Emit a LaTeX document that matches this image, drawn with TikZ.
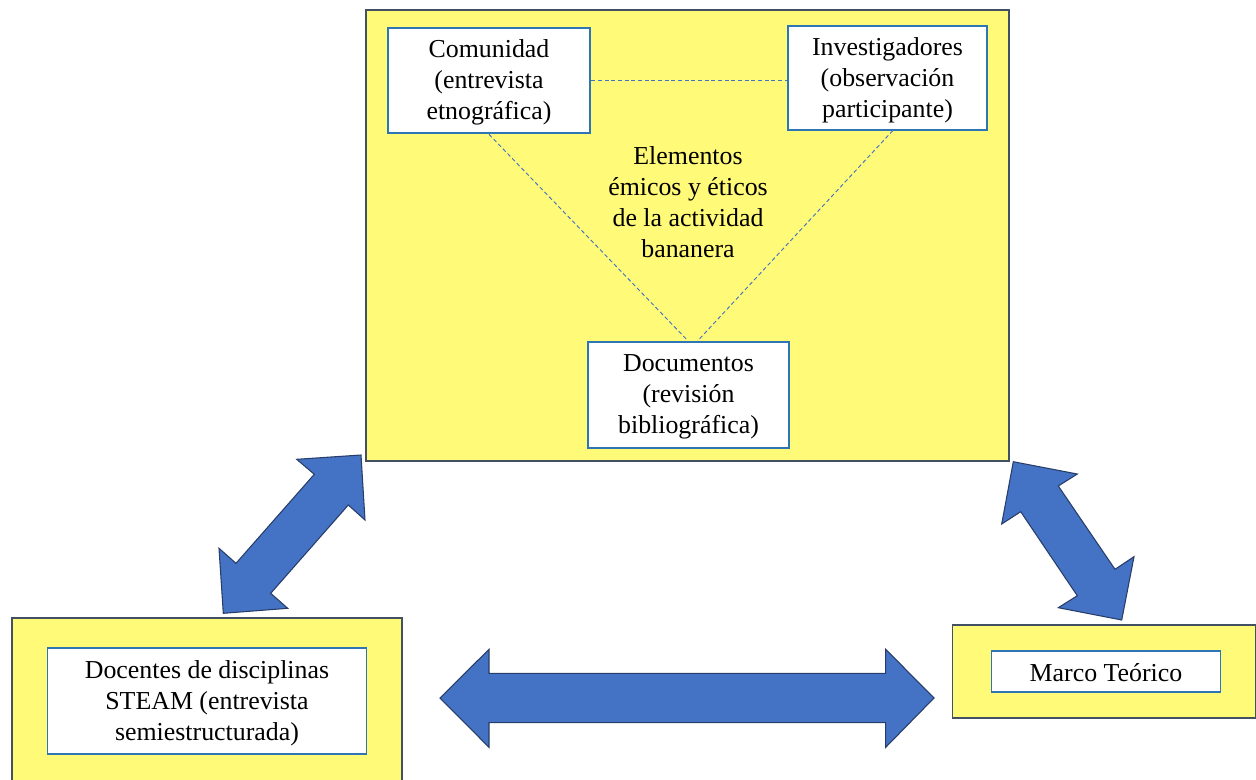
\documentclass[tikz,border=0pt]{standalone}
\usepackage{fontspec}
\setmainfont{Liberation Serif}
\definecolor{yel}{RGB}{255,250,120}
\definecolor{frame}{RGB}{66,80,100}
\definecolor{boxblue}{RGB}{46,117,182}
\definecolor{arrowfill}{RGB}{68,114,196}
\definecolor{arrowline}{RGB}{40,62,105}
\begin{document}
\begin{tikzpicture}[x=0.75pt,y=-0.75pt,
  every node/.style={font=\fontsize{19.4pt}{23.3pt}\selectfont, align=center, inner sep=0pt},
  outerbox/.style={draw=frame, fill=yel, line width=1.1pt},
  thickbox/.style={draw=boxblue, fill=white, line width=2pt},
  thinbox/.style={draw=boxblue, fill=white, line width=0.8pt},
  link/.style={draw=arrowfill, line width=0.7pt, dash pattern=on 3pt off 2pt},
  blockarrow/.style={fill=arrowfill, draw=arrowline, line width=0.8pt, line join=miter}]
\useasboundingbox (0,0) rectangle (1256,779);
\clip (0,0) rectangle (1256,779);
% outer yellow boxes
\node[outerbox, minimum width={643*0.75pt}, minimum height={451*0.75pt}] (top) at (687.5,235.5) {};
\node[outerbox, minimum width={390*0.75pt}, minimum height={190*0.75pt}] (left) at (207,713) {};
\node[outerbox, minimum width={303*0.75pt}, minimum height={93*0.75pt}] (right) at (1104,671.5) {};
% inner boxes
\node[thickbox, minimum width={202*0.75pt}, minimum height={105*0.75pt}] (com) at (489,80.5) {};
\node (comtxt) at ([yshift=-1.5pt]com.center) {Comunidad\\(entrevista\\etnográfica)};
\node[thinbox, minimum width={199*0.75pt}, minimum height={104*0.75pt}] (inv) at (887.5,78) {};
\node (invtxt) at ([yshift=-1.5pt]inv.center) {Investigadores\\(observación\\participante)};
\node[thickbox, minimum width={201*0.75pt}, minimum height={106*0.75pt}] (doc) at (688.5,395) {};
\node (doctxt) at ([yshift=-1.5pt]doc.center) {Documentos\\(revisión\\bibliográfica)};
\node (elem) at (688,202) {Elementos\\émicos y éticos\\de la actividad\\bananera};
\node[thinbox, minimum width={319*0.75pt}, minimum height={106*0.75pt}] (doce) at (207,701) {};
\node (docetxt) at ([yshift=-2pt]doce.center) {Docentes de disciplinas\\STEAM (entrevista\\semiestructurada)};
\node[thinbox, minimum width={229*0.75pt}, minimum height={41*0.75pt}] (marco) at (1106,671.5) {};
\node (marcotxt) at ([yshift=-0.5pt]marco.center) {Marco Teórico};
% dashed links
\draw[link] (com.east) -- (inv.west |- com.east);
\draw[link] (com.south) -- ([xshift=-0.5pt]doc.north);
\draw[link] ([xshift=4pt]inv.south) -- ([xshift=7pt]doc.north);
% block arrows
\draw[blockarrow] (361,455) -- (365,520) -- (348.3,505) -- (270.7,593.3) -- (287.7,608.3)
  -- (223.3,613.3) -- (219,548.3) -- (236,563.3) -- (314.3,474.3) -- (296.7,459.3) -- cycle;
\draw[blockarrow] (1013.3,461.7) -- (1077.3,474) -- (1058.3,486) -- (1115,569.3) -- (1134,556.7)
  -- (1121.7,620) -- (1058.3,607.7) -- (1077.3,595.7) -- (1020.7,511.7) -- (1001.7,524) -- cycle;
\draw[blockarrow] (440,698) -- (489,649.3) -- (489,673.3) -- (885.7,673.3) -- (885.7,649.3)
  -- (934,698) -- (885.7,747.3) -- (885.7,722.7) -- (489,722.7) -- (489,747.3) -- cycle;
\end{tikzpicture}
\end{document}
